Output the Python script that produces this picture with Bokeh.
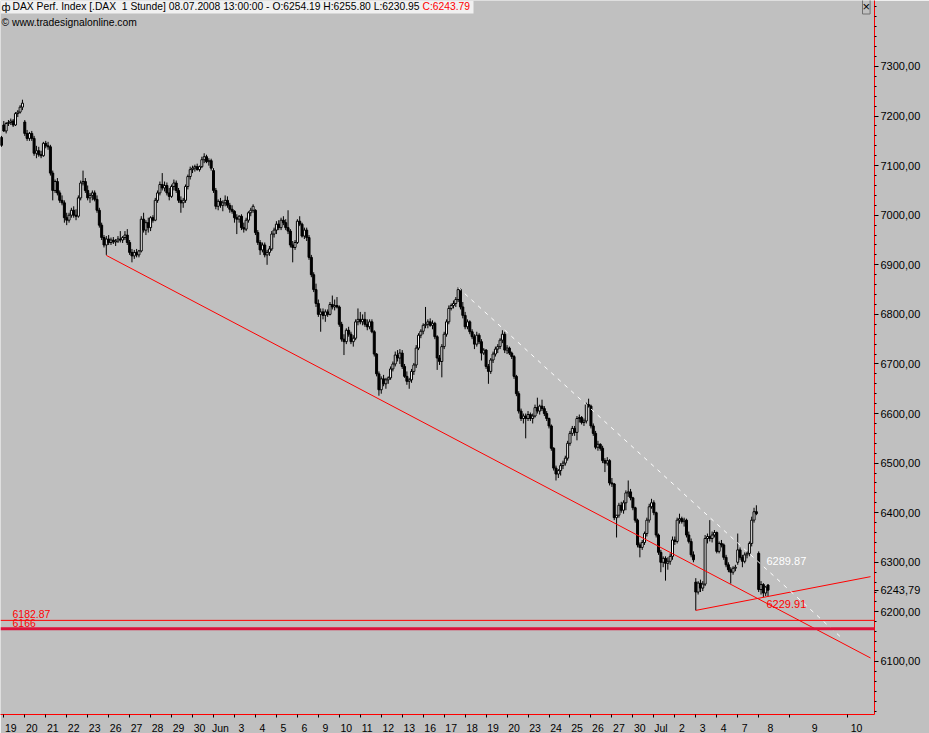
from bokeh.plotting import figure
from bokeh.models import ColumnDataSource, Range1d, FixedTicker, Span, Label, BoxAnnotation
from bokeh.embed import file_html
from bokeh.resources import INLINE

# ---------------- data (hourly bars, DAX, 16.05.2008 17:00 .. 08.07.2008 13:00) ----------------
opens = [7157,
 7182,7170,7185,7187,7190,7182,7205,7208,7218,
 7188,7165,7155,7165,7155,7125,7130,7122,7120,
 7145,7140,7138,7085,7050,7068,7045,7030,7025,
 6995,6990,7000,7010,7000,6998,7035,7065,7068,
 7050,7035,7040,7045,7032,7010,6980,6955,6940,
 6952,6945,6950,6946,6948,6952,6950,6955,6960,
 6945,6925,6918,6925,6920,6928,6992,6970,6985,
 6975,6995,6990,7030,7045,7062,7055,7060,7045,
 7038,7058,7065,7050,7030,7025,7030,7058,7078,
 7092,7095,7098,7092,7098,7112,7118,7108,7110,
 7090,7050,7018,7028,7020,7025,7030,7020,7012,
 7008,6995,6992,6998,6975,6972,6990,7005,7010,
 7010,6965,6945,6930,6940,6920,6925,6932,6962,
 6970,6982,6975,6990,6985,6975,6968,6940,6935,
 6945,6988,6982,6958,6970,6955,6915,6880,6850,
 6822,6800,6805,6798,6805,6800,6820,6815,6818,
 6815,6780,6750,6745,6768,6760,6745,6752,6785,
 6790,6785,6790,6780,6775,6785,6765,6720,6680,
 6648,6670,6660,6668,6672,6690,6700,6718,6712,
 6722,6695,6675,6665,6668,6685,6698,6732,6758,
 6766,6778,6780,6785,6778,6782,6755,6712,6705,
 6735,6760,6785,6812,6818,6822,6830,6850,6815,
 6798,6775,6785,6765,6755,6740,6758,6745,6722,
 6728,6695,6685,6708,6720,6730,6735,6748,6760,
 6728,6732,6722,6715,6675,6640,6605,6590,6595,
 6590,6598,6590,6595,6612,6605,6615,6610,6600,
 6590,6575,6530,6490,6478,6485,6495,6500,6510,
 6540,6560,6570,6562,6590,6592,6582,6585,6618,
 6615,6575,6560,6532,6538,6530,6505,6500,6505,
 6460,6458,6390,6395,6415,6405,6420,6440,6442,
 6430,6410,6385,6335,6330,6340,6358,6385,6412,
 6420,6400,6355,6320,6300,6308,6298,6302,6312,
 6345,6342,6385,6388,6382,6385,6355,6342,6315,
 6260,6240,6258,6248,6256,6348,6352,6348,6355,
 6360,6322,6338,6335,6310,6295,6285,6280,6288,
 6300,6325,6310,6302,6315,6318,6338,6385,6402,
 6318,6245,6255,6238,6254.19]

highs = [7160,
 7190,7188,7192,7195,7194,7208,7212,7222,7233,
 7192,7172,7168,7170,7160,7140,7138,7130,7148,
 7150,7148,7142,7090,7072,7075,7050,7040,7030,
 7005,7005,7015,7018,7012,7040,7070,7090,7075,
 7060,7045,7050,7050,7040,7015,6985,6960,6958,
 6960,6955,6956,6952,6958,6968,6958,6968,6972,
 6950,6932,6930,6932,6930,6998,7005,6990,6995,
 6998,7000,7035,7050,7068,7085,7068,7066,7055,
 7062,7072,7070,7055,7038,7035,7062,7082,7098,
 7100,7102,7104,7100,7118,7125,7122,7115,7114,
 7095,7055,7032,7035,7030,7040,7038,7025,7020,
 7010,7002,7000,7002,6985,6995,7008,7015,7022,
 7012,6970,6950,6945,6945,6930,6938,6968,6975,
 6988,6990,6995,6998,6992,7010,6972,6948,6950,
 6992,6998,6985,6975,6975,6960,6920,6885,6862,
 6830,6812,6812,6810,6810,6825,6838,6830,6835,
 6818,6785,6760,6772,6775,6765,6758,6790,6812,
 6805,6800,6805,6790,6790,6790,6768,6722,6685,
 6675,6678,6672,6675,6695,6705,6725,6728,6730,
 6728,6700,6685,6672,6690,6702,6738,6762,6770,
 6782,6815,6790,6792,6788,6785,6758,6718,6740,
 6765,6790,6818,6822,6828,6835,6855,6852,6825,
 6805,6790,6788,6770,6760,6765,6762,6750,6732,
 6730,6700,6712,6725,6735,6740,6752,6768,6765,
 6738,6735,6725,6718,6678,6645,6610,6600,6600,
 6605,6602,6600,6618,6632,6618,6628,6615,6605,
 6592,6578,6532,6495,6488,6500,6505,6515,6545,
 6565,6575,6575,6595,6598,6595,6590,6622,6630,
 6618,6580,6565,6545,6540,6535,6510,6512,6508,
 6470,6460,6395,6420,6422,6425,6445,6465,6448,
 6432,6412,6388,6340,6345,6362,6390,6418,6428,
 6425,6402,6358,6325,6312,6312,6310,6318,6352,
 6352,6390,6398,6392,6390,6388,6362,6348,6322,
 6268,6262,6265,6262,6355,6358,6385,6362,6365,
 6362,6342,6345,6338,6315,6300,6290,6292,6295,
 6358,6330,6315,6320,6322,6342,6392,6410,6415,
 6322,6262,6258,6252,6255.80]

lows = [7138,
 7168,7165,7180,7182,7178,7180,7198,7205,7212,
 7160,7150,7150,7150,7120,7115,7118,7115,7118,
 7135,7132,7080,7030,7045,7040,7025,7020,6985,
 6980,6985,6995,6995,6990,6995,7030,7060,7045,
 7030,7025,7030,7028,7005,6975,6950,6935,6920,
 6940,6940,6942,6938,6944,6945,6944,6950,6940,
 6920,6905,6912,6915,6915,6925,6965,6960,6965,
 6968,6985,6988,7025,7040,7050,7048,7040,7030,
 7035,7050,7045,7025,7005,7015,7025,7052,7072,
 7085,7088,7090,7088,7095,7105,7105,7100,7090,
 7045,7012,7010,7015,7008,7018,7015,7005,7003,
 6985,6962,6985,6970,6965,6968,6985,6998,7005,
 6960,6940,6920,6925,6915,6900,6918,6928,6955,
 6962,6970,6970,6980,6970,6962,6935,6905,6930,
 6942,6978,6955,6952,6948,6910,6875,6845,6815,
 6795,6765,6790,6785,6795,6798,6810,6808,6812,
 6775,6745,6718,6740,6755,6740,6735,6748,6778,
 6780,6778,6775,6768,6770,6762,6715,6675,6636,
 6640,6655,6650,6660,6668,6685,6695,6705,6700,
 6690,6672,6658,6650,6662,6678,6692,6728,6752,
 6760,6772,6772,6775,6770,6750,6688,6698,6673,
 6730,6755,6780,6808,6812,6815,6825,6810,6792,
 6770,6770,6760,6750,6730,6735,6740,6707,6718,
 6690,6660,6680,6702,6715,6722,6730,6742,6722,
 6720,6718,6710,6670,6635,6600,6585,6580,6550,
 6585,6585,6580,6592,6600,6598,6605,6595,6585,
 6570,6525,6485,6465,6470,6475,6488,6495,6505,
 6535,6555,6555,6546,6582,6578,6575,6580,6612,
 6570,6555,6528,6525,6525,6500,6482,6495,6455,
 6452,6385,6350,6390,6400,6398,6405,6432,6425,
 6405,6380,6330,6310,6325,6335,6352,6380,6408,
 6395,6350,6315,6280,6290,6263,6285,6295,6305,
 6335,6338,6378,6378,6372,6350,6338,6310,6300,
 6203,6235,6240,6242,6252,6338,6342,6340,6350,
 6318,6318,6330,6305,6290,6280,6257,6275,6282,
 6295,6305,6290,6298,6308,6312,6332,6380,6395,
 6240,6235,6229.91,6232,6230.95]

closes = [7141,
 7170,7185,7187,7190,7182,7205,7208,7218,7226,
 7165,7155,7165,7155,7125,7130,7122,7120,7145,
 7140,7138,7085,7050,7068,7045,7030,7025,6995,
 6990,7000,7010,7000,6998,7035,7065,7068,7050,
 7035,7040,7045,7032,7010,6980,6955,6940,6952,
 6945,6950,6946,6948,6952,6950,6955,6960,6945,
 6925,6918,6925,6920,6928,6992,6970,6985,6975,
 6995,6990,7030,7045,7062,7055,7060,7045,7038,
 7058,7065,7050,7030,7025,7030,7058,7078,7092,
 7095,7098,7092,7098,7112,7118,7108,7110,7095,
 7050,7018,7028,7020,7025,7030,7020,7012,7008,
 6995,6992,6998,6975,6972,6990,7005,7010,7018,
 6965,6945,6930,6940,6920,6925,6932,6962,6970,
 6982,6975,6990,6985,6975,6968,6940,6935,6945,
 6988,6982,6958,6970,6955,6915,6880,6850,6822,
 6800,6805,6798,6805,6800,6820,6815,6818,6815,
 6780,6750,6745,6768,6760,6745,6752,6785,6790,
 6785,6790,6780,6775,6785,6765,6720,6680,6648,
 6670,6660,6668,6672,6690,6700,6718,6712,6722,
 6695,6675,6665,6668,6685,6698,6732,6758,6766,
 6778,6780,6785,6778,6782,6755,6712,6705,6735,
 6760,6785,6812,6818,6822,6830,6850,6815,6798,
 6775,6785,6765,6755,6740,6758,6745,6722,6728,
 6695,6685,6708,6720,6730,6735,6748,6760,6728,
 6732,6722,6715,6675,6640,6605,6590,6595,6590,
 6598,6590,6595,6612,6605,6615,6610,6600,6590,
 6575,6530,6490,6478,6485,6495,6500,6510,6540,
 6560,6570,6562,6590,6592,6582,6585,6618,6615,
 6575,6560,6532,6538,6530,6505,6500,6505,6460,
 6458,6390,6395,6415,6405,6420,6440,6442,6430,
 6410,6385,6335,6330,6340,6358,6385,6412,6420,
 6400,6355,6320,6300,6308,6298,6302,6312,6345,
 6342,6385,6388,6382,6385,6355,6342,6315,6305,
 6240,6258,6248,6256,6348,6352,6348,6355,6360,
 6322,6338,6335,6310,6295,6285,6280,6288,6290,
 6325,6310,6302,6315,6318,6338,6385,6402,6398,
 6245,6255,6238,6250,6243.79]

# trading-day labels (bottom axis), one per day, 9 hourly bars per day
day_labels = ["19", "20", "21", "22", "23", "26", "27", "28", "29", "30",
              "Jun", "3", "4", "5", "6", "9", "10", "11", "12", "13",
              "16", "17", "18", "19", "20", "23", "24", "25", "26", "27",
              "30", "Jul", "2", "3", "4", "7", "8"]
bars_per_day = 9
future_labels = ["9", "10"]
future_label_pos = [348, 366]
future_tick_pos = [337.3, 362.0]

# price axis
ytick_values = [6100, 6200, 6300, 6400, 6500, 6600, 6700, 6800, 6900, 7000, 7100, 7200, 7300]
ytick_labels = ["6100,00", "6200,00", "6300,00", "6400,00", "6500,00", "6600,00", "6700,00",
                "6800,00", "6900,00", "7000,00", "7100,00", "7200,00", "7300,00"]

# drawn studies
support_x = [44, 372]
support_y = [6919, 6107]
rising_x = [297, 372]
rising_y = [6203, 6271]
resist_x = [195, 359]
resist_y = [6854, 6150]
level_1 = 6182.87
level_2 = 6166
mark_hi = 6289.87
mark_lo = 6229.91
last_close = 6243.79
last_close_label = "6243,79"

# ---------------- figure ----------------
FW, FH = 874, 714
X0, X1 = -1.42, 373.7
Y0, Y1 = 5993.0, 7433.1
PX = FW / (X1 - X0)          # pixels per bar
PY = FH / (Y1 - Y0)          # pixels per point

def sx(px):   # page x (pixels) -> bar index
    return X0 + px / PX

def sy(py):   # page y (pixels) -> price
    return Y1 - py / PY

GRAY = "#c0c0c0"
p = figure(frame_width=FW, frame_height=FH, x_range=Range1d(X0, X1), y_range=Range1d(Y0, Y1),
           y_axis_location="right", output_backend="svg", toolbar_location=None,
           min_border=0, background_fill_color=GRAY, border_fill_color=GRAY)
p.min_border_right = 55
p.min_border_bottom = 19
p.outline_line_color = None
p.grid.visible = False

bar_x = list(range(-1, len(closes) - 1))
src = ColumnDataSource(dict(
    x=bar_x, high=highs, low=lows,
    top=[max(o, c) for o, c in zip(opens, closes)],
    bottom=[min(o, c) for o, c in zip(opens, closes)],
    fill=["white" if c > o else "black" for o, c in zip(opens, closes)],
))
p.segment(x0="x", y0="low", x1="x", y1="high", source=src, line_color="black", line_width=1)
p.vbar(x="x", top="top", bottom="bottom", width=0.85, source=src,
       fill_color="fill", line_color="black", line_width=1)

# horizontal levels
p.add_layout(Span(location=level_1, dimension="width", line_color="red", line_width=1))
p.add_layout(Span(location=level_2, dimension="width", line_color="#dc143c", line_width=3))

# trend lines
p.line(support_x, support_y, line_color="red", line_width=1)
p.line(rising_x, rising_y, line_color="red", line_width=1)
p.line(resist_x, resist_y, line_color="white", line_width=1, line_dash="4 5")

FONT = "Liberation Sans"
def lab(x, y, text, color="black", size="11px", align="left", bg=None, border=None, xoff=0):
    p.add_layout(Label(x=x, y=y, text=text, text_color=color, text_font=FONT,
                       text_font_size=size, text_align=align, text_baseline="middle", x_offset=xoff,
                       background_fill_color=bg, border_line_color=border))

lab(sx(12), sy(613.5), f"{level_1:.2f}", color="red", size="10.5px")
lab(sx(12), sy(622), f"{level_2}", color="red", size="10.5px")
lab(sx(766), sy(560), f"{mark_hi:.2f}", color="white", size="11px")
lab(sx(766), sy(603), f"{mark_lo:.2f}", color="red", size="11px")

# header
p.add_layout(BoxAnnotation(left=X0, right=sx(473), top=Y1, bottom=sy(13),
                           fill_color="#f0f0f0", fill_alpha=1, line_color=None))
head = "DAX Perf. Index [.DAX \u00a01 Stunde] 08.07.2008 13:00:00 - O:6254.19 H:6255.80 L:6230.95 "
lab(sx(1), sy(6), "\u0444", size="11px")
lab(sx(12), sy(6), head, size="10.3px")
lab(sx(422), sy(6), "C:6243.79", color="red", size="10.3px")
lab(sx(1), sy(22), "\u00a9 www.tradesignalonline.com", size="10.3px")
# close button of the chart window
lab(sx(862), sy(6), "\u00d7", size="13px", border="#707070")

# axes
ya = p.yaxis[0]
ya.ticker = FixedTicker(ticks=ytick_values + [last_close], minor_ticks=list(range(6000, 7440, 20)))
ya.major_label_overrides = dict(zip(ytick_values + [last_close], ytick_labels + [last_close_label]))
ya.axis_line_color = "red"
ya.major_tick_line_color = "black"
ya.minor_tick_line_color = "black"
ya.major_tick_in = 0
ya.major_tick_out = 4
ya.minor_tick_in = 0
ya.minor_tick_out = 2
ya.major_label_standoff = 2
ya.major_label_text_font = FONT
ya.major_label_text_font_size = "11px"
ya.major_label_text_color = "black"

day_starts = [bars_per_day * d for d in range(len(day_labels))]
label_pos = [s + 3 for s in day_starts[:-1]] + [329] + future_label_pos
all_labels = day_labels + future_labels
xa = p.xaxis[0]
xa.ticker = FixedTicker(ticks=label_pos, minor_ticks=day_starts + future_tick_pos)
xa.major_label_overrides = dict(zip(label_pos, all_labels))
xa.axis_line_color = "red"
xa.major_tick_line_color = None
xa.major_tick_in = 0
xa.major_tick_out = 0
xa.minor_tick_line_color = "black"
xa.minor_tick_in = 0
xa.minor_tick_out = 3
xa.major_label_standoff = 4
xa.major_label_text_font = FONT
xa.major_label_text_font_size = "10.5px"
xa.major_label_text_color = "black"

open("out.html", "w").write(file_html(p, INLINE))
